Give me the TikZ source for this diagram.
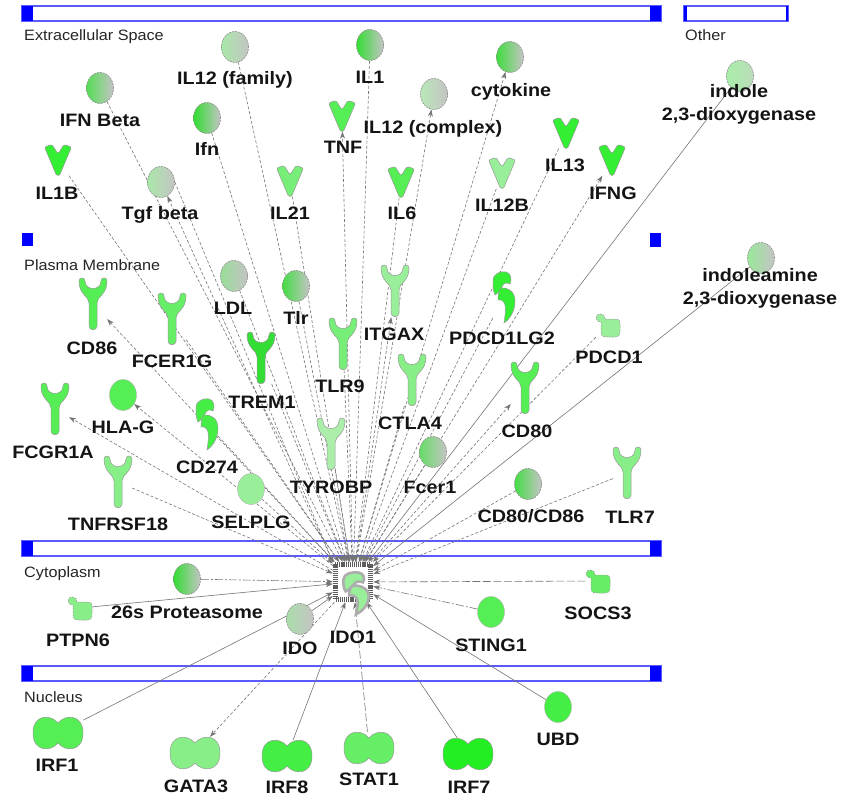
\documentclass[tikz,border=0pt]{standalone}
\usepackage{fontspec}
\setmainfont{Liberation Sans}
\usetikzlibrary{shapes.geometric,arrows.meta}
\pgfdeclarelayer{bg}
\pgfdeclarelayer{edges}
\pgfsetlayers{bg,edges,main}

\definecolor{edgeC}{HTML}{747474}
\definecolor{grpR}{HTML}{C4C4C4}
\definecolor{barB}{HTML}{0000FF}
\definecolor{barL}{HTML}{5A5AFF}
\definecolor{s1}{HTML}{22EE22}
\definecolor{s2}{HTML}{33EE33}
\definecolor{s3}{HTML}{44EE44}
\definecolor{s4}{HTML}{55EE55}
\definecolor{s5}{HTML}{66EE66}
\definecolor{s6}{HTML}{77EE77}
\definecolor{s7}{HTML}{88EE88}
\definecolor{s8}{HTML}{99EE99}
\definecolor{s9}{HTML}{AAEEAA}
\definecolor{sD}{HTML}{33DD33}
\definecolor{gIFNB}{HTML}{55DD55}
\definecolor{gIL12F}{HTML}{A8E8A8}
\definecolor{gIL1}{HTML}{33DD33}
\definecolor{gCYT}{HTML}{3FDD3F}
\definecolor{gIL12C}{HTML}{B8E8B8}
\definecolor{gIFN}{HTML}{30DD30}
\definecolor{gTGF}{HTML}{A8E8A8}
\definecolor{gIND}{HTML}{A8EEA8}
\definecolor{gINDR}{HTML}{BCDCBC}
\definecolor{gINDA}{HTML}{99E899}
\definecolor{gLDL}{HTML}{99DD99}
\definecolor{gTLR}{HTML}{44DD44}
\definecolor{gFCE}{HTML}{66DD66}
\definecolor{gCD}{HTML}{44DD44}
\definecolor{gPRO}{HTML}{33DD33}
\definecolor{gIDO}{HTML}{AADDAA}

\tikzset{
  lab/.style={font=\bfseries\fontsize{18}{23}\selectfont, text=black!92, inner sep=0pt,
    text height=13pt, text depth=0pt, align=center, transform shape, xscale=1.1},
  comp/.style={font=\fontsize{15}{15}\selectfont, text=black!85, inner sep=0pt,
    text height=11pt, text depth=0pt, anchor=west, transform shape, xscale=1.08},
  grp/.style={ellipse, minimum width=27pt, minimum height=31pt, inner sep=0pt,
    draw=black!45, dash pattern=on 2pt off 1pt, line width=0.6pt,
    left color=#1, right color=grpR},
  gene/.style={ellipse, minimum width=27pt, minimum height=31pt, inner sep=0pt,
    draw=black!30, line width=0.4pt, fill=#1},
  vph/.style={minimum width=27pt, minimum height=31pt, inner sep=0pt},
  yph/.style={minimum width=28pt, minimum height=52pt, inner sep=0pt},
  eph/.style={minimum width=22pt, minimum height=50pt, inner sep=0pt},
  pph/.style={minimum width=25pt, minimum height=24pt, inner sep=0pt},
  tph/.style={minimum width=50pt, minimum height=32pt, inner sep=0pt},
  shpx/.style={},
  shp/.style={fill=#1, draw=black!40, line width=0.5pt, shpx},
  pics/cyto/.style={code={
    \path[shp=#1, rounded corners=1.5pt] (-13.5,-13) -- (-6,-15.5) -- (0,-6) -- (6,-15.5)
      -- (13.5,-13) -- (1.5,15.5) -- (-1.5,15.5) -- cycle;}},
  pics/recep/.style={code={
    \path[shp=#1] (-14,-23) .. controls (-14,-27) and (-8,-27) .. (-8,-23)
      .. controls (-8,-13) and (8,-13) .. (8,-23)
      .. controls (8,-27) and (14,-27) .. (14,-23)
      .. controls (14,-9) and (4,-8) .. (4,-1) -- (4,22)
      .. controls (4,27) and (-4,27) .. (-4,22) -- (-4,-1)
      .. controls (-4,-8) and (-14,-9) .. (-14,-23) -- cycle;}},
  pics/enz/.style={code={
    \path[shp=#1] (-11,-16) .. controls (-11,-24) and (-3,-26) .. (2,-25)
      .. controls (7,-24) and (8,-18) .. (6,-13)
      .. controls (3,-15) and (-1,-14) .. (-2,-10)
      .. controls (-3,-7) and (-6,-4) .. (-9,-2)
      .. controls (-11,-6) and (-11,-11) .. (-11,-16) -- cycle;
    \path[shp=#1] (-3,-9) .. controls (3,-10) and (11,-6) .. (11,4)
      .. controls (11,14) and (6,22) .. (0,26)
      .. controls (1,19) and (2,13) .. (1,8)
      .. controls (0,4) and (-3,2) .. (-6,3)
      .. controls (-6,-3) and (-5,-7) .. (-3,-9) -- cycle;}},
  pics/phos/.style={code={
    \path[shp=#1, dash pattern=on 2pt off 1pt] (-3,-6) .. controls (-2,-12) and (-12,-13) .. (-12,-7)
      .. controls (-12,-4) and (-9,-3) .. (-7,-3) -- (-7,7)
      .. controls (-7,12) and (-4,12) .. (0,12) -- (7,12)
      .. controls (12,12) and (12,9) .. (12,5) -- (12,-2)
      .. controls (12,-6) and (9,-6) .. (5,-6) -- cycle;}},
  pics/tfac/.style={code={
    \path[shp=#1] (0,-10) .. controls (7,-19) and (25,-19) .. (25,0)
      .. controls (25,19) and (7,19) .. (0,10)
      .. controls (-7,19) and (-25,19) .. (-25,0)
      .. controls (-25,-19) and (-7,-19) .. (0,-10) -- cycle;}},
  edge/.style={draw=edgeC, line width=0.6pt},
  dsh/.style={edge, dash pattern=on 3pt off 2pt},
  sol/.style={edge},
  ldsh/.style={edge, dash pattern=on 8pt off 2.5pt},
  ddot/.style={edge, dash pattern=on 8pt off 2pt on 2pt off 2pt},
  tip/.style={-{Stealth[length=7pt,width=5pt]}, fill=none},
}

\begin{document}
\begin{tikzpicture}[x=1pt,y=-1pt]
\useasboundingbox (0,0) rectangle (842,800);

% ---------- compartments ----------
\begin{pgfonlayer}{bg}
\fill[white] (0,0) rectangle (842,800);
\draw[barL, line width=1.2pt] (22,6) rectangle (661,21);
\fill[barB] (22,6) rectangle (33,21);
\fill[barB] (650,6) rectangle (661,21);
\draw[barL, line width=1.2pt] (684,6) rectangle (788,21);
\fill[barB] (684,6) rectangle (686.5,21);
\fill[barB] (785.5,6) rectangle (788,21);
\fill[barB] (22,233) rectangle (33,246);
\fill[barB] (650,233) rectangle (661,247);
\draw[barL, line width=1.2pt] (22,541) rectangle (661,556);
\fill[barB] (22,541) rectangle (33,556);
\fill[barB] (650,541) rectangle (661,556);
\draw[barL, line width=1.2pt] (22,666) rectangle (661,681);
\fill[barB] (22,666) rectangle (33,681);
\fill[barB] (650,666) rectangle (661,681);
\end{pgfonlayer}
\node[comp] (c-ext) at (24,35) {Extracellular Space};
\node[comp] (c-oth) at (685,35) {Other};
\node[comp] (c-pm) at (24,265) {Plasma Membrane};
\node[comp] (c-cyt) at (24,572) {Cytoplasm};
\node[comp] (c-nuc) at (24,697) {Nucleus};

% ---------- hub ----------
\node[minimum width=40pt, minimum height=40pt, inner sep=0pt] (ido1) at (353,582) {};

% ---------- extracellular ----------
\node[grp=gIFNB] (ifnb) at (100,88) {};
\node[grp=gIL12F] (il12fam) at (235,47) {};
\node[grp=gIL1] (il1) at (370,45) {};
\node[grp=gCYT] (cytok) at (510,57) {};
\node[grp=gIL12C] (il12cx) at (434,94) {};
\node[grp=gIFN] (ifn) at (207,118) {};
\node[grp=gTGF] (tgfb) at (161,182) {};
\node[grp=gIND, right color=gINDR] (indole) at (740,76) {};
\node[grp=gINDA] (indolea) at (761,258) {};
\node[vph] (tnf) at (342,116) {};
\node[vph] (il1b) at (58,160) {};
\node[vph] (il21) at (290,181) {};
\node[vph] (il6) at (401,182) {};
\node[vph] (il12b) at (502,173) {};
\node[vph] (il13) at (566,133) {};
\node[vph] (ifng) at (612,160) {};

% ---------- plasma membrane ----------
\node[yph] (cd86) at (93,304) {};
\node[yph] (fcer1g) at (172,319) {};
\node[grp=gLDL] (ldl) at (234,276) {};
\node[grp=gTLR] (tlr) at (296,286) {};
\node[yph] (trem1) at (261,358) {};
\node[yph] (tlr9) at (343,344) {};
\node[yph] (itgax) at (395,291) {};
\node[eph] (pdcd1lg2) at (504,297) {};
\node[pph] (pdcd1) at (608,325) {};
\node[yph] (ctla4) at (412,380) {};
\node[yph] (cd80) at (525,388) {};
\node[yph] (fcgr1a) at (55,409) {};
\node[gene=s4] (hlag) at (123,395) {};
\node[eph] (cd274) at (207,424) {};
\node[yph] (tnfrsf18) at (118,482) {};
\node[gene=s8] (selplg) at (251,489) {};
\node[yph] (tyrobp) at (331,444) {};
\node[grp=gFCE] (fcer1) at (433,452) {};
\node[grp=gCD] (cd8086) at (528,484) {};
\node[yph] (tlr7) at (627,473) {};

% ---------- cytoplasm ----------
\node[grp=gPRO] (prot) at (187,579) {};
\node[pph] (ptpn6) at (80,608) {};
\node[grp=gIDO] (ido) at (300,619) {};
\node[gene=s4] (sting1) at (491,612) {};
\node[pph] (socs3) at (598,581) {};

% ---------- nucleus ----------
\node[tph] (irf1) at (58,733) {};
\node[tph] (gata3) at (195,753) {};
\node[tph] (irf8) at (287,756) {};
\node[tph] (stat1) at (369,748) {};
\node[tph] (irf7) at (468,754) {};
\node[gene=s3] (ubd) at (558,707) {};

% ---------- edges ----------
\begin{pgfonlayer}{edges}
\foreach \n in {ifnb,il12fam,il1,ifn,il1b,il21,il6,il12b,il13,ldl,tlr,fcer1g,trem1,tlr9,pdcd1lg2,pdcd1,ctla4,cd274,tnfrsf18,selplg,tyrobp,fcer1,cd8086,tlr7}
  \draw[dsh,tip] (\n) -- (ido1);
\foreach \n in {tnf,il12cx,cytok,ifng,cd86,itgax,cd80,fcgr1a,hlag,gata3}
  \draw[dsh,tip] (ido1) -- (\n);
\draw[dsh,tip] (ido1.north west) -- (tgfb);
\draw[dsh,tip] (tgfb.east) -- (ido1.north west);
\foreach \n in {indole,indolea,ptpn6,ido,irf1,irf8,irf7,ubd}
  \draw[sol,tip] (\n) -- (ido1);
\draw[ldsh,tip] (socs3) -- (ido1);
\draw[ldsh,tip] (stat1) -- (ido1);
\draw[ddot,tip] (prot) -- (ido1);
\draw[ddot,tip] (sting1) -- (ido1);
\end{pgfonlayer}

% ---------- shapes ----------
\pic at (tnf) {cyto=s4};
\pic at (il1b) {cyto=s2};
\pic at (il21) {cyto=s6};
\pic at (il6) {cyto=s4};
\pic at (il12b) {cyto=s8};
\pic at (il13) {cyto=s2};
\pic at (ifng) {cyto=s2};

\pic at (cd86) {recep=s4};
\pic at (fcer1g) {recep=s5};
\pic at (trem1) {recep=sD};
\pic at (tlr9) {recep=s6};
\pic at (itgax) {recep=s8};
\pic at (ctla4) {recep=s7};
\pic at (cd80) {recep=s4};
\pic at (fcgr1a) {recep=s4};
\pic at (tnfrsf18) {recep=s7};
\pic at (tyrobp) {recep=s9};
\pic at (tlr7) {recep=s7};

\pic at (pdcd1lg2) {enz=s2};
\pic at (cd274) {enz=s3};

\pic at (pdcd1) {phos=s8};
\pic at (ptpn6) {phos=s7};
\pic at (socs3) {phos=s5};

\pic at (irf1) {tfac=s4};
\pic at (gata3) {tfac=s7};
\pic at (irf8) {tfac=s3};
\pic at (stat1) {tfac=s5};
\pic at (irf7) {tfac=s1};

% hub frame and IDO1
\draw[black!64, fill=white, line width=5pt, dash pattern=on 1.2pt off 0.9pt]
  ([shift={(2.5pt,-2.5pt)}]ido1.north west) rectangle ([shift={(-2.5pt,2.5pt)}]ido1.south east);
\pic[xscale=1.15, yscale=0.82, shpx/.style={draw=black!32, line width=2.6pt}] at (356,593) {enz=s8};

% ---------- labels ----------
\node[lab] (l-ifnb) at (100,120) {IFN Beta};
\node[lab] (l-il12fam) at (235,78) {IL12 (family)};
\node[lab] (l-il1) at (370,77) {IL1};
\node[lab] (l-cytok) at (511,90) {cytokine};
\node[lab] (l-il12cx) at (433,127) {IL12 (complex)};
\node[lab] (l-ifn) at (207,149) {Ifn};
\node[lab] (l-tnf) at (343,147) {TNF};
\node[lab] (l-tgfb) at (160,213) {Tgf beta};
\node[lab] (l-il1b) at (57,193) {IL1B};
\node[lab] (l-il21) at (290,213) {IL21};
\node[lab] (l-il6) at (402,213) {IL6};
\node[lab] (l-il12b) at (502,205) {IL12B};
\node[lab] (l-il13) at (565,165) {IL13};
\node[lab] (l-ifng) at (613,193) {IFNG};
\node[lab] (l-indole) at (739,114) {indole\\2,3-dioxygenase};
\node[lab] (l-indolea) at (760,298) {indoleamine\\2,3-dioxygenase};

\node[lab] (l-cd86) at (92,348) {CD86};
\node[lab] (l-fcer1g) at (172,361) {FCER1G};
\node[lab] (l-ldl) at (233,308) {LDL};
\node[lab] (l-tlr) at (296,318) {Tlr};
\node[lab] (l-trem1) at (262,402) {TREM1};
\node[lab] (l-tlr9) at (340,386) {TLR9};
\node[lab] (l-itgax) at (394,334) {ITGAX};
\node[lab] (l-pdcd1lg2) at (502,338) {PDCD1LG2};
\node[lab] (l-pdcd1) at (609,357) {PDCD1};
\node[lab] (l-ctla4) at (410,423) {CTLA4};
\node[lab] (l-cd80) at (527,431) {CD80};
\node[lab] (l-fcgr1a) at (53,452) {FCGR1A};
\node[lab] (l-hlag) at (123,427) {HLA-G};
\node[lab] (l-cd274) at (207,467) {CD274};
\node[lab] (l-tnfrsf18) at (118,524) {TNFRSF18};
\node[lab] (l-selplg) at (251,522) {SELPLG};
\node[lab] (l-tyrobp) at (331,487) {TYROBP};
\node[lab] (l-fcer1) at (430,487) {Fcer1};
\node[lab] (l-cd8086) at (531,516) {CD80/CD86};
\node[lab] (l-tlr7) at (630,517) {TLR7};

\node[lab] (l-prot) at (187,612) {26s Proteasome};
\node[lab] (l-ptpn6) at (78,640) {PTPN6};
\node[lab] (l-ido) at (300,648) {IDO};
\node[lab] (l-ido1) at (353,637) {IDO1};
\node[lab] (l-sting1) at (491,645) {STING1};
\node[lab] (l-socs3) at (598,613) {SOCS3};

\node[lab] (l-irf1) at (57,765) {IRF1};
\node[lab] (l-gata3) at (196,786) {GATA3};
\node[lab] (l-irf8) at (287,787) {IRF8};
\node[lab] (l-stat1) at (369,779) {STAT1};
\node[lab] (l-irf7) at (469,787) {IRF7};
\node[lab] (l-ubd) at (558,739) {UBD};
\end{tikzpicture}
\end{document}
